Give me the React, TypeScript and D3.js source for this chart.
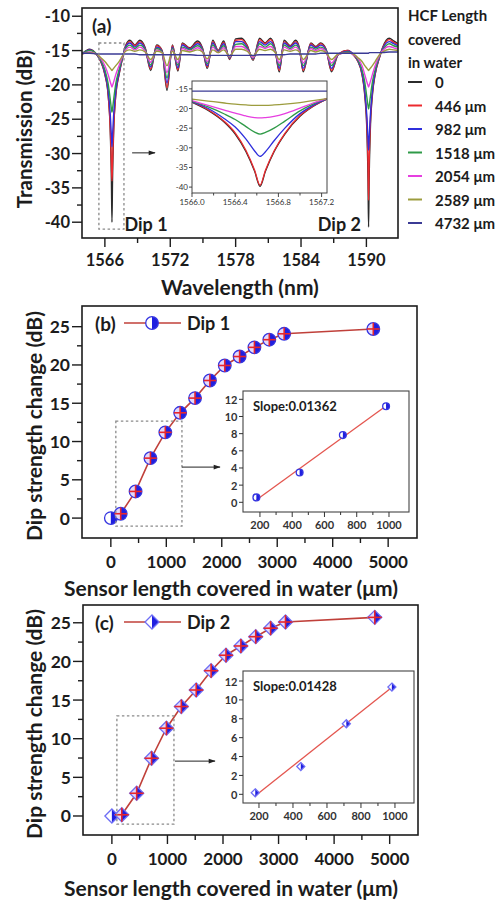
import React from 'react';
import * as d3 from 'd3';

const FONT = 'Lato, "Open Sans", Arial, sans-serif';
const INK = '#1c1c1c';

// ---------- (a) transmission spectra ----------
const wavelength = [
  1563.9, 1564.6, 1565.3,
  1565.6, 1566.0, 1566.3, 1566.5, 1566.6, 1566.65, 1566.7, 1566.8, 1567.0, 1567.3, 1567.6,
  1567.9, 1568.3, 1568.75, 1569.2, 1569.7, 1570.2, 1570.75, 1571.25, 1571.7, 1572.2,
  1572.7, 1573.1, 1573.8, 1574.5, 1574.95, 1575.4, 1575.9, 1576.4, 1576.9, 1577.45,
  1578.0, 1578.55, 1579.05, 1579.6, 1580.2, 1580.7, 1581.2, 1581.6, 1582.0, 1582.45,
  1583.0, 1583.5, 1583.85, 1584.2, 1584.9, 1585.35, 1585.8, 1586.3, 1586.8, 1587.4,
  1588.3, 1588.9,
  1589.2, 1589.6, 1589.85, 1590.05, 1590.15, 1590.2, 1590.25, 1590.35, 1590.55, 1590.8, 1591.2,
  1591.5, 1592.1, 1592.5, 1592.9,
];

const coverLabels = ['0', '446 μm', '982 μm', '1518 μm', '2054 μm', '2589 μm', '4732 μm'];
const coverColors = ['#2b2b2b', '#ec2a2f', '#2f2fdc', '#2f9a48', '#e63fe0', '#9c9c3e', '#3b3b95'];

const trans0 = [
  -15.5, -14.8, -15.7,
  -16.5, -18.5, -21.5, -27, -34, -40, -34, -27, -21.5, -18.5, -16.2,
  -14.3, -13.5, -14.2, -13.5, -14.6, -17.9, -14.2, -15.0, -20.8, -14.2,
  -18.0, -13.9, -14.6, -13.6, -14.6, -17.6, -13.5, -15.0, -13.6, -16.3,
  -13.3, -13.2, -14.2, -16.4, -13.2, -13.9, -13.2, -14.6, -18.1, -13.5,
  -14.3, -13.5, -14.6, -18.1, -13.9, -14.4, -13.9, -14.8, -18.1, -15.6,
  -15.0, -15.8,
  -16.5, -18.5, -21.5, -27, -34, -40.7, -34, -27, -21.5, -18.5, -16,
  -14.5, -13.2, -13.6, -14.0,
];
const trans446 = [
  -15.5, -14.9, -15.7,
  -16.5, -18.4, -21.3, -26.5, -31.5, -34, -31.5, -26.5, -21.3, -18.4, -16.2,
  -14.4, -13.7, -14.3, -13.7, -14.7, -17.7, -14.3, -15.0, -20.4, -14.3,
  -17.8, -14.0, -14.7, -13.8, -14.7, -17.4, -13.7, -15.0, -13.8, -16.2,
  -13.5, -13.4, -14.3, -16.3, -13.4, -14.0, -13.4, -14.7, -17.9, -13.7,
  -14.4, -13.7, -14.7, -17.9, -14.0, -14.5, -14.0, -14.9, -17.9, -15.6,
  -15.0, -15.8,
  -16.5, -18.4, -21.2, -26, -31.5, -36.8, -31.5, -26, -21.2, -18.4, -16,
  -14.6, -13.4, -13.8, -14.1,
];
const trans982 = [
  -15.5, -14.9, -15.7,
  -16.4, -18.2, -20.8, -24.5, -27.5, -29, -27.5, -24.5, -20.8, -18.2, -16.1,
  -14.5, -13.9, -14.5, -13.9, -14.8, -17.4, -14.5, -15.1, -19.7, -14.5,
  -17.5, -14.2, -14.8, -14.0, -14.8, -17.2, -13.9, -15.1, -14.0, -16.1,
  -13.7, -13.7, -14.5, -16.2, -13.7, -14.2, -13.7, -14.8, -17.6, -13.9,
  -14.5, -13.9, -14.8, -17.6, -14.2, -14.6, -14.2, -14.9, -17.6, -15.6,
  -15.1, -15.7,
  -16.4, -18.2, -20.8, -24.8, -28, -29.5, -28, -24.8, -20.8, -18.2, -15.9,
  -14.7, -13.7, -14.0, -14.3,
];
const trans1518 = [
  -15.5, -15.0, -15.6,
  -16.3, -17.8, -19.8, -22.2, -23.5, -24, -23.5, -22.2, -19.8, -17.8, -16.0,
  -14.7, -14.2, -14.7, -14.2, -14.9, -17.1, -14.7, -15.2, -19.0, -14.7,
  -17.1, -14.5, -14.9, -14.3, -14.9, -16.9, -14.2, -15.2, -14.3, -16.0,
  -14.1, -14.0, -14.7, -16.1, -14.0, -14.5, -14.0, -14.9, -17.2, -14.2,
  -14.7, -14.2, -14.9, -17.2, -14.5, -14.8, -14.5, -15.0, -17.2, -15.6,
  -15.2, -15.7,
  -16.3, -17.8, -19.6, -21.9, -23.1, -23.5, -23.1, -21.9, -19.6, -17.8, -15.8,
  -14.9, -14.0, -14.3, -14.5,
];
const trans2054 = [
  -15.5, -15.2, -15.6,
  -16.1, -17.2, -18.5, -19.6, -20.1, -20.3, -20.1, -19.6, -18.5, -17.2, -15.9,
  -14.9, -14.5, -14.9, -14.5, -15.1, -16.7, -14.9, -15.3, -18.2, -14.9,
  -16.8, -14.7, -15.1, -14.6, -15.1, -16.6, -14.5, -15.3, -14.6, -15.9,
  -14.4, -14.4, -14.9, -16.0, -14.4, -14.7, -14.4, -15.1, -16.8, -14.5,
  -14.9, -14.5, -15.1, -16.8, -14.7, -15.0, -14.7, -15.2, -16.8, -15.6,
  -15.3, -15.7,
  -16.1, -17.2, -18.5, -19.6, -20.1, -20.3, -20.1, -19.6, -18.5, -17.2, -15.7,
  -15.0, -14.4, -14.6, -14.8,
];
const trans2589 = [
  -15.5, -15.3, -15.6,
  -16.0, -16.6, -17.2, -17.6, -17.8, -17.9, -17.8, -17.6, -17.2, -16.6, -15.8,
  -15.1, -14.9, -15.1, -14.9, -15.2, -16.3, -15.1, -15.3, -17.2, -15.1,
  -16.3, -15.0, -15.2, -14.9, -15.2, -16.2, -14.9, -15.3, -14.9, -15.8,
  -14.8, -14.8, -15.1, -15.8, -14.8, -15.0, -14.8, -15.2, -16.3, -14.9,
  -15.1, -14.9, -15.2, -16.3, -15.0, -15.2, -15.0, -15.3, -16.3, -15.5,
  -15.3, -15.6,
  -16.0, -16.6, -17.2, -17.6, -17.8, -17.9, -17.8, -17.6, -17.2, -16.6, -15.6,
  -15.2, -14.8, -14.9, -15.0,
];
const trans4732 = [
  -15.4, -15.4, -15.5,
  -15.5, -15.5, -15.5, -15.5, -15.5, -15.5, -15.5, -15.5, -15.5, -15.5, -15.5,
  -15.5, -15.5, -15.5, -15.6, -15.6, -15.6, -15.6, -15.6, -15.6, -15.6,
  -15.6, -15.6, -15.6, -15.7, -15.7, -15.7, -15.7, -15.7, -15.7, -15.7,
  -15.7, -15.7, -15.7, -15.7, -15.6, -15.6, -15.6, -15.6, -15.6, -15.6,
  -15.5, -15.5, -15.5, -15.5, -15.5, -15.5, -15.4, -15.4, -15.4, -15.4,
  -15.4, -15.4,
  -15.4, -15.4, -15.4, -15.4, -15.4, -15.4, -15.3, -15.3, -15.3, -15.3, -15.3,
  -15.3, -15.2, -15.2, -15.2,
];
const spectra = [trans0, trans446, trans982, trans1518, trans2054, trans2589, trans4732];

// zoom of dip 1
const zoomWl = [1566.0, 1566.15, 1566.3, 1566.4, 1566.5, 1566.58, 1566.63, 1566.68, 1566.76, 1566.86, 1567.0, 1567.12, 1567.25];
const zoom0 = [-18.4, -20.5, -23.5, -26.5, -31, -36, -39.8, -36, -31, -26.5, -22, -19.5, -17.6];
const zoom446 = [-18.3, -20.3, -23.3, -26.2, -30.7, -35.7, -39.5, -35.7, -30.8, -26.3, -21.8, -19.4, -17.6];
const zoom982 = [-18.3, -20.0, -22.6, -24.7, -27.8, -30.8, -32.2, -31.0, -28.2, -25.0, -21.3, -19.2, -17.5];
const zoom1518 = [-18.2, -19.6, -21.4, -22.8, -24.6, -26.0, -26.5, -26.1, -25.0, -23.2, -20.6, -18.9, -17.5];
const zoom2054 = [-18.0, -19.2, -20.4, -21.2, -21.9, -22.3, -22.4, -22.3, -22.0, -21.3, -19.9, -18.6, -17.4];
const zoom2589 = [-17.6, -18.1, -18.6, -18.9, -19.1, -19.2, -19.2, -19.2, -19.1, -18.9, -18.5, -18.0, -17.5];
const zoom4732 = [-15.6, -15.6, -15.6, -15.6, -15.6, -15.6, -15.6, -15.6, -15.6, -15.6, -15.6, -15.6, -15.6];
const zoomSpectra = [zoom0, zoom446, zoom982, zoom1518, zoom2054, zoom2589, zoom4732];

const wlTicks = [1566, 1572, 1578, 1584, 1590];
const wlMinor = [1569, 1575, 1581, 1587];
const transTicks = [-10, -15, -20, -25, -30, -35, -40];
const transMinor = [-12.5, -17.5, -22.5, -27.5, -32.5, -37.5];
const zoomWlTicks = [1566.0, 1566.4, 1566.8, 1567.2];
const zoomWlMinor = [1566.2, 1566.6, 1567.0];
const zoomTransTicks = [-15, -20, -25, -30, -35, -40];

// ---------- (b), (c) dip strength change ----------
const coveredLength = [0, 178, 446, 714, 982, 1250, 1518, 1786, 2054, 2322, 2589, 2857, 3125, 4732];
const dip1Change = [0, 0.57, 3.48, 7.83, 11.2, 13.75, 15.67, 17.97, 19.93, 21.1, 22.3, 23.3, 24.07, 24.7];
const dip2Change = [0, 0.16, 2.94, 7.47, 11.36, 14.16, 16.3, 18.8, 20.8, 22.0, 23.2, 24.3, 25.1, 25.7];
const lengthTicks = [0, 1000, 2000, 3000, 4000, 5000];
const lengthMinor = [500, 1500, 2500, 3500, 4500];
const changeTicks = [0, 5, 10, 15, 20, 25];
const changeMinor = [2.5, 7.5, 12.5, 17.5, 22.5];
const fitTicksX = [200, 400, 600, 800, 1000];
const fitMinorX = [300, 500, 700, 900];
const fitTicksY = [0, 2, 4, 6, 8, 10, 12];
const fitRange = [175, 990];
const dip1Fit = { slope: 0.01362, intercept: -2.15 };
const dip2Fit = { slope: 0.01428, intercept: -2.7 };

type Box = { x0: number; x1: number; y0: number; y1: number };
type Lin = d3.ScaleLinear<number, number>;

function AxisLeft({ scale, x, ticks, minor = [], size = 9, minorSize = 5, fontSize, gap = 2, weight = 700, color = INK, sw = 1.4, fmt = (t: number) => String(t) }: any) {
  return (
    <g>
      {ticks.map((t: number) => (
        <g key={'M' + t}>
          <line x1={x - size} x2={x} y1={scale(t)} y2={scale(t)} stroke={color} strokeWidth={sw} />
          <text x={x - size - gap} y={scale(t)} textAnchor="end" dominantBaseline="central" fontSize={fontSize} fontWeight={weight} fill={color}>{fmt(t)}</text>
        </g>
      ))}
      {minor.map((t: number) => (
        <line key={'m' + t} x1={x - minorSize} x2={x} y1={scale(t)} y2={scale(t)} stroke={color} strokeWidth={sw} />
      ))}
    </g>
  );
}

function AxisBottom({ scale, y, ticks, minor = [], size = 9, minorSize = 5, fontSize, gap = 4, weight = 700, color = INK, sw = 1.4, fmt = (t: number) => String(t) }: any) {
  return (
    <g>
      {ticks.map((t: number) => (
        <g key={'M' + t}>
          <line x1={scale(t)} x2={scale(t)} y1={y} y2={y + size} stroke={color} strokeWidth={sw} />
          <text x={scale(t)} y={y + size + gap} textAnchor="middle" dominantBaseline="hanging" fontSize={fontSize} fontWeight={weight} fill={color}>{fmt(t)}</text>
        </g>
      ))}
      {minor.map((t: number) => (
        <line key={'m' + t} x1={scale(t)} x2={scale(t)} y1={y} y2={y + minorSize} stroke={color} strokeWidth={sw} />
      ))}
    </g>
  );
}

function Frame({ b, sw = 1.6, color = INK }: { b: Box; sw?: number; color?: string }) {
  return <rect x={b.x0} y={b.y0} width={b.x1 - b.x0} height={b.y1 - b.y0} fill="none" stroke={color} strokeWidth={sw} />;
}

function SpectrumPanel() {
  const f: Box = { x0: 82, x1: 398, y0: 8, y1: 238 };
  const x = d3.scaleLinear().domain([1563.9, 1592.9]).range([f.x0, f.x1]);
  const y = d3.scaleLinear().domain([-42.3, -8.8]).range([f.y1, f.y0]);
  const path = (vals: number[]) =>
    d3.line<number>().x((_, i) => x(wavelength[i])).y((v) => y(v)).curve(d3.curveMonotoneX)(vals) ?? '';

  const zf: Box = { x0: 192, x1: 327, y0: 81, y1: 193 };
  const zx = d3.scaleLinear().domain([1566.0, 1567.25]).range([zf.x0, zf.x1]);
  const zy = d3.scaleLinear().domain([-41.5, -13]).range([zf.y1, zf.y0]);
  const zpath = (vals: number[]) =>
    d3.line<number>().x((_, i) => zx(zoomWl[i])).y((v) => zy(v)).curve(d3.curveMonotoneX)(vals) ?? '';

  return (
    <g>
      <clipPath id="clipA"><rect x={f.x0} y={f.y0} width={f.x1 - f.x0} height={f.y1 - f.y0} /></clipPath>
      <g clipPath="url(#clipA)">
        {spectra.map((s, i) => (
          <path key={i} d={path(s)} fill="none" stroke={coverColors[i]} strokeWidth={1.4} />
        ))}
      </g>
      {/* dashed box round dip 1 */}
      <rect x={x(1565.45)} y={y(-13.9)} width={x(1567.75) - x(1565.45)} height={y(-41) - y(-13.9)} fill="none" stroke="#8a8a8a" strokeWidth={1.3} strokeDasharray="2.5,2.5" />
      <line x1={x(1568.5)} x2={x(1570.6)} y1={y(-29.9)} y2={y(-29.9)} stroke="#222" strokeWidth={1} markerEnd="url(#arrow)" />

      {/* inset */}
      <rect x={zf.x0} y={zf.y0} width={zf.x1 - zf.x0} height={zf.y1 - zf.y0} fill="#fff" />
      <clipPath id="clipZ"><rect x={zf.x0} y={zf.y0} width={zf.x1 - zf.x0} height={zf.y1 - zf.y0} /></clipPath>
      <g clipPath="url(#clipZ)">
        {zoomSpectra.map((s, i) => (
          <path key={i} d={zpath(s)} fill="none" stroke={coverColors[i]} strokeWidth={1.3} />
        ))}
      </g>
      <Frame b={zf} sw={1} color="#444" />
      <AxisLeft scale={zy} x={zf.x0} ticks={zoomTransTicks} size={3} fontSize={8} weight={400} color="#333" sw={0.9} gap={1} />
      <AxisBottom scale={zx} y={zf.y1} ticks={zoomWlTicks} minor={zoomWlMinor} size={4} minorSize={2.5} fontSize={8} weight={400} color="#333" sw={0.9} gap={2} fmt={(t: number) => t.toFixed(1)} />

      <Frame b={f} />
      <AxisLeft scale={y} x={f.x0} ticks={transTicks} minor={transMinor} size={10} minorSize={5} fontSize={16.5} />
      <AxisBottom scale={x} y={f.y1} ticks={wlTicks} minor={wlMinor} size={9} minorSize={5} fontSize={16.5} gap={6} />

      <text x={92} y={25} fontSize={19} fontWeight={700} dominantBaseline="central" fill={INK}>(a)</text>
      <text x={x(1567.8)} y={y(-40.2)} fontSize={18} fontWeight={700} dominantBaseline="central" fill={INK}>Dip 1</text>
      <text x={x(1589.5)} y={y(-40.2)} fontSize={18} fontWeight={700} dominantBaseline="central" textAnchor="end" fill={INK}>Dip 2</text>

      <text transform={`translate(24,${129}) rotate(-90)`} textAnchor="middle" dominantBaseline="central" fontSize={20.5} fontWeight={700} fill={INK}>Transmission (dB)</text>
      <text x={(f.x0 + f.x1) / 2} y={286} textAnchor="middle" dominantBaseline="central" fontSize={21} fontWeight={700} fill={INK}>Wavelength (nm)</text>

      {/* legend */}
      {['HCF Length', 'covered', 'in water'].map((t, i) => (
        <text key={t} x={408} y={15 + i * 23.5} fontSize={15} fontWeight={700} dominantBaseline="central" fill={INK}>{t}</text>
      ))}
      {coverLabels.map((t, i) => (
        <g key={t}>
          <line x1={408} x2={422} y1={82 + i * 23.5} y2={82 + i * 23.5} stroke={coverColors[i]} strokeWidth={2} />
          <text x={435} y={82 + i * 23.5} fontSize={15} fontWeight={700} dominantBaseline="central" fill={INK}>{t}</text>
        </g>
      ))}
    </g>
  );
}

function Marker({ shape, cx, cy, r, cross }: { shape: string; cx: number; cy: number; r: number; cross: boolean }) {
  const left = shape === 'circle'
    ? `M${cx},${cy - r}A${r},${r} 0 0 0 ${cx},${cy + r}Z`
    : `M${cx},${cy - r}L${cx - r},${cy}L${cx},${cy + r}Z`;
  const right = shape === 'circle'
    ? `M${cx},${cy - r}A${r},${r} 0 0 1 ${cx},${cy + r}Z`
    : `M${cx},${cy - r}L${cx + r},${cy}L${cx},${cy + r}Z`;
  const outline = shape === 'circle' ? '#3535e0' : '#6e6ef5';
  return (
    <g>
      <path d={left} fill={cross ? '#e2d8fb' : '#ffffff'} />
      <path d={right} fill="#1f1fe0" />
      {shape === 'circle'
        ? <circle cx={cx} cy={cy} r={r} fill="none" stroke={outline} strokeWidth={1.3} />
        : <path d={`M${cx},${cy - r}L${cx + r},${cy}L${cx},${cy + r}L${cx - r},${cy}Z`} fill="none" stroke={outline} strokeWidth={1.3} />}
      {cross && (
        <g stroke="#e8262b" strokeWidth={1.6}>
          <line x1={cx - r} x2={cx + r} y1={cy} y2={cy} />
          <line x1={cx} x2={cx} y1={cy - r} y2={cy + r} />
        </g>
      )}
    </g>
  );
}

function ChangePanel({ cfg }: { cfg: any }) {
  const f: Box = cfg.frame;
  const x = d3.scaleLinear().domain(cfg.xDomain).range([f.x0, f.x1]);
  const y = d3.scaleLinear().domain(cfg.yDomain).range([f.y1, f.y0]);
  const vals: number[] = cfg.values;
  const pts = coveredLength.map((L, i) => [L, vals[i]] as [number, number]);
  const linePath = d3.line<[number, number]>().x((d) => x(d[0])).y((d) => y(d[1]))(pts.slice(1)) ?? '';

  const zf: Box = cfg.inset;
  const zx = d3.scaleLinear().domain(cfg.insetX).range([zf.x0, zf.x1]);
  const zy = d3.scaleLinear().domain(cfg.insetY).range([zf.y1, zf.y0]);
  const fit = cfg.fit;
  const fitPath = d3.line<number>().x((d) => zx(d)).y((d) => zy(fit.slope * d + fit.intercept))(fitRange) ?? '';
  const r = cfg.shape === 'circle' ? 6.3 : 7;
  const rb = cfg.rect;

  return (
    <g>
      <path d={linePath} fill="none" stroke="#c0403a" strokeWidth={1.6} />
      {pts.map((p, i) => (
        <Marker key={i} shape={cfg.shape} cx={x(p[0])} cy={y(p[1])} r={r} cross={i > 0} />
      ))}
      <rect x={x(rb[0])} y={y(rb[3])} width={x(rb[1]) - x(rb[0])} height={y(rb[2]) - y(rb[3])} fill="none" stroke="#8a8a8a" strokeWidth={1.3} strokeDasharray="2.5,2.5" />
      <line x1={x(cfg.arrow[0])} x2={x(cfg.arrow[1])} y1={y(cfg.arrow[2])} y2={y(cfg.arrow[2])} stroke="#222" strokeWidth={1} markerEnd="url(#arrow)" />

      {/* inset with linear fit */}
      <rect x={zf.x0} y={zf.y0} width={zf.x1 - zf.x0} height={zf.y1 - zf.y0} fill="#fff" />
      <path d={fitPath} fill="none" stroke="#e4564f" strokeWidth={1.3} />
      {pts.slice(1, 5).map((p, i) => (
        <Marker key={i} shape={cfg.shape} cx={zx(p[0])} cy={zy(p[1])} r={cfg.shape === 'circle' ? 3.4 : 4} cross={false} />
      ))}
      <Frame b={zf} sw={1.1} color="#444" />
      <AxisLeft scale={zy} x={zf.x0} ticks={fitTicksY} size={4} fontSize={11} weight={700} color="#333" sw={1} gap={1.5} />
      <AxisBottom scale={zx} y={zf.y1} ticks={fitTicksX} minor={fitMinorX} size={5} minorSize={3} fontSize={11} weight={700} color="#333" sw={1} gap={3} />
      <text x={zf.x0 + 10} y={zf.y0 + 15} fontSize={13} fontWeight={700} dominantBaseline="central" fill={INK}>{cfg.slopeText}</text>

      <Frame b={f} />
      <AxisLeft scale={y} x={f.x0} ticks={changeTicks} minor={changeMinor} size={10} minorSize={5} fontSize={17.5} gap={2} />
      <AxisBottom scale={x} y={f.y1} ticks={lengthTicks} minor={lengthMinor} size={9} minorSize={5} fontSize={17} gap={7} />

      {/* legend */}
      <text x={95} y={cfg.legendY} fontSize={19} fontWeight={700} dominantBaseline="central" fill={INK}>{cfg.tag}</text>
      <line x1={124} x2={181} y1={cfg.legendY} y2={cfg.legendY} stroke="#c0403a" strokeWidth={1.6} />
      <Marker shape={cfg.shape} cx={152} cy={cfg.legendY} r={r} cross={false} />
      <text x={187} y={cfg.legendY} fontSize={18} fontWeight={700} dominantBaseline="central" fill={INK}>{cfg.name}</text>

      <text transform={`translate(33,${(f.y0 + f.y1) / 2 + 4}) rotate(-90)`} textAnchor="middle" dominantBaseline="central" fontSize={21} fontWeight={700} fill={INK}>Dip strength change (dB)</text>
      <text x={231} y={cfg.xLabelY} textAnchor="middle" dominantBaseline="central" fontSize={21} fontWeight={700} fill={INK}>Sensor length covered in water (μm)</text>
    </g>
  );
}

const panelB = {
  frame: { x0: 82, x1: 417, y0: 306, y1: 538 },
  xDomain: [-520, 5520], yDomain: [-2.6, 27.7],
  values: dip1Change, shape: 'circle',
  inset: { x0: 243, x1: 409, y0: 391, y1: 512 }, insetX: [95, 1124], insetY: [-1.13, 12.97],
  fit: dip1Fit, slopeText: 'Slope:0.01362',
  rect: [90, 1282, -1.04, 12.66], arrow: [1282, 1968, 6.66],
  tag: '(b)', name: 'Dip 1', legendY: 323, xLabelY: 587,
};
const panelC = {
  frame: { x0: 83, x1: 418, y0: 605, y1: 835 },
  xDomain: [-520, 5510], yDomain: [-2.46, 27.3],
  values: dip2Change, shape: 'diamond',
  inset: { x0: 243, x1: 414, y0: 671, y1: 803 }, insetX: [106, 1112], insetY: [-0.92, 13.06],
  fit: dip2Fit, slopeText: 'Slope:0.01428',
  rect: [90, 1117, -1.04, 12.95], arrow: [1135, 1856, 7.1],
  tag: '(c)', name: 'Dip 2', legendY: 622, xLabelY: 887,
};

export default function App() {
  return (
    <svg width={504} height={902} viewBox="0 0 504 902" style={{ position: 'absolute', left: 0, top: 0, background: '#fff' }} fontFamily={FONT}>
      <defs>
        <marker id="arrow" viewBox="0 0 10 10" refX="9" refY="5" markerWidth="8" markerHeight="7" orient="auto">
          <path d="M0,1.5L10,5L0,8.5Z" fill="#222" />
        </marker>
      </defs>
      <rect width={504} height={902} fill="#fff" />
      <SpectrumPanel />
      <ChangePanel cfg={panelB} />
      <ChangePanel cfg={panelC} />
    </svg>
  );
}
